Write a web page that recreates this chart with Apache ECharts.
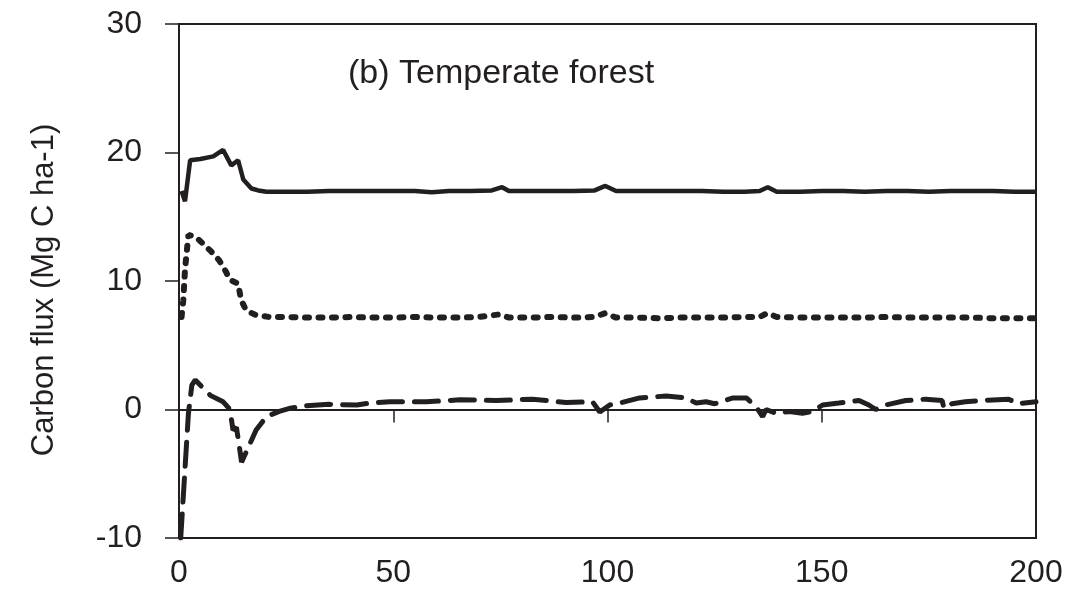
<!DOCTYPE html>
<html><head><meta charset="utf-8">
<script src="https://cdn.jsdelivr.net/npm/echarts@6/dist/echarts.min.js"></script>
<style>html,body{margin:0;padding:0;background:#fff}#c{width:1068px;height:590px}</style>
</head><body><div id="c"></div>
<script>
const xTicks = [0, 50, 100, 150, 200];
const yTicks = [-10, 0, 10, 20, 30];
const titleText = '(b) Temperate forest';
const yTitle = 'Carbon flux (Mg C ha-1)';

const solidX = [0.6, 1.4, 2.6, 5, 8, 10.3, 12.2, 13.8, 15, 16.9, 18.5, 20.4, 25, 30, 35, 40, 45, 50, 55, 59, 63, 68, 73, 75.4, 77, 82, 87, 92, 97, 99.5, 102, 107, 112, 117, 122, 127, 132, 135.5, 137.4, 139.5, 145, 150, 155, 160, 165, 170, 175, 180, 185, 190, 195, 200];
const solidY = [17.0, 16.2, 19.4, 19.5, 19.7, 20.2, 19.0, 19.4, 17.9, 17.2, 17.05, 16.95, 16.95, 16.95, 17.0, 17.0, 17.0, 17.0, 17.0, 16.9, 17.0, 17.0, 17.05, 17.3, 17.0, 17.0, 17.0, 17.0, 17.05, 17.4, 17.0, 17.0, 17.0, 17.0, 17.0, 16.95, 16.95, 17.0, 17.3, 16.95, 16.95, 17.0, 17.0, 16.95, 17.0, 17.0, 16.95, 17.0, 17.0, 17.0, 16.95, 16.95];

const dotX = [0.6, 1.0, 1.4, 2.2, 2.6, 4, 5.6, 7.5, 9.4, 11, 11.8, 13.8, 14.5, 15.7, 17, 18, 21, 25, 30, 35, 40, 45, 50, 55, 60, 65, 70, 74.8, 77, 82, 87, 92, 97, 99.5, 102, 107, 112, 117, 122, 127, 132, 135.5, 137.3, 139.5, 145, 150, 155, 160, 165, 170, 175, 180, 185, 190, 195, 200];
const dotY = [7.2, 8.5, 10.9, 13.6, 13.7, 13.4, 12.9, 12.3, 11.6, 10.7, 10.1, 9.8, 8.5, 7.7, 7.5, 7.35, 7.2, 7.2, 7.15, 7.15, 7.2, 7.15, 7.15, 7.2, 7.15, 7.15, 7.2, 7.4, 7.15, 7.15, 7.2, 7.15, 7.2, 7.5, 7.15, 7.15, 7.1, 7.15, 7.15, 7.15, 7.2, 7.2, 7.5, 7.2, 7.15, 7.15, 7.15, 7.15, 7.2, 7.15, 7.15, 7.15, 7.15, 7.1, 7.1, 7.1];

const dashX = [0.4, 2.2, 3.0, 3.8, 7.3, 10.3, 11.9, 12.6, 13.4, 13.8, 14.6, 16.1, 18, 20.4, 23.4, 26, 29, 35, 41.5, 44.5, 49.2, 57.7, 65.5, 74, 82.5, 90.3, 96.5, 98.2, 100.5, 102.8, 107.5, 113.7, 118.3, 120.7, 123, 125, 129.3, 132.4, 134.7, 136.2, 137, 139.4, 142.4, 145.5, 147.8, 150.2, 154, 158.7, 161, 162.6, 164.9, 169.6, 174.2, 178.1, 178.5, 180.4, 183.5, 187.4, 193.6, 195.9, 200];
const dashY = [-10, -0.3, 1.9, 2.3, 1.1, 0.6, 0.0, -1.6, -1.4, -2.25, -4.1, -3.0, -1.6, -0.55, -0.15, 0.1, 0.27, 0.4, 0.35, 0.5, 0.6, 0.6, 0.75, 0.7, 0.8, 0.55, 0.6, -0.2, 0.35, 0.5, 0.9, 1.05, 0.9, 0.5, 0.6, 0.45, 0.9, 0.9, 0.2, -0.55, 0.0, -0.3, -0.15, -0.3, -0.15, 0.35, 0.5, 0.7, 0.35, 0.0, 0.35, 0.7, 0.8, 0.7, 0.1, 0.45, 0.6, 0.7, 0.8, 0.45, 0.6];

const pair = (xs, ys) => xs.map((x, i) => [x, ys[i]]);
const ink = '#231f20';
const font = 'Liberation Sans, Arial, sans-serif';

const chart = echarts.init(document.getElementById('c'));
chart.setOption({
  animation: false,
  grid: { left: 179, right: 32, top: 24, bottom: 52, show: true, borderColor: ink, borderWidth: 2, backgroundColor: 'transparent' },
  xAxis: [
    { type: 'value', min: 0, max: 200, interval: 50, position: 'bottom',
      axisLine: { onZero: false, lineStyle: { color: ink, width: 2 } },
      axisTick: { show: false }, splitLine: { show: false },
      axisLabel: { color: ink, fontSize: 32, fontFamily: font, margin: 19,
        formatter: v => xTicks.includes(v) ? String(v) : '' } },
    { type: 'value', min: 0, max: 200, interval: 50, position: 'bottom',
      axisLine: { onZero: true, lineStyle: { color: ink, width: 2 } },
      axisTick: { show: true, inside: false, length: 13, lineStyle: { color: ink, width: 1.5 } },
      splitLine: { show: false }, axisLabel: { show: false } }
  ],
  yAxis: {
    type: 'value', min: -10, max: 30, interval: 10,
    axisLine: { show: true, lineStyle: { color: ink, width: 2 } },
    axisTick: { show: true, inside: false, length: 14, lineStyle: { color: ink, width: 1.5 } },
    splitLine: { show: false },
    axisLabel: { color: ink, fontSize: 32, fontFamily: font, margin: 37,
      formatter: v => yTicks.includes(v) ? String(v) : '' }
  },
  graphic: [
    { type: 'text', left: 348, top: 57, style: { text: titleText, fill: ink, font: '34px ' + font } },
    { type: 'text', x: 44, y: 290, rotation: Math.PI / 2,
      style: { text: yTitle, fill: ink, font: '31px ' + font, textAlign: 'center', textVerticalAlign: 'middle' } }
  ],
  series: [
    { type: 'line', xAxisIndex: 0, data: pair(solidX, solidY), showSymbol: false, smooth: false,
      lineStyle: { color: ink, width: 4.5 } },
    { type: 'line', xAxisIndex: 0, data: pair(dotX, dotY), showSymbol: false,
      lineStyle: { color: ink, width: 6, type: [4, 9.5], cap: 'round' } },
    { type: 'line', xAxisIndex: 0, data: pair(dashX, dashY), showSymbol: false,
      lineStyle: { color: ink, width: 5, type: [24, 12], cap: 'round' } }
  ]
});
</script></body></html>
